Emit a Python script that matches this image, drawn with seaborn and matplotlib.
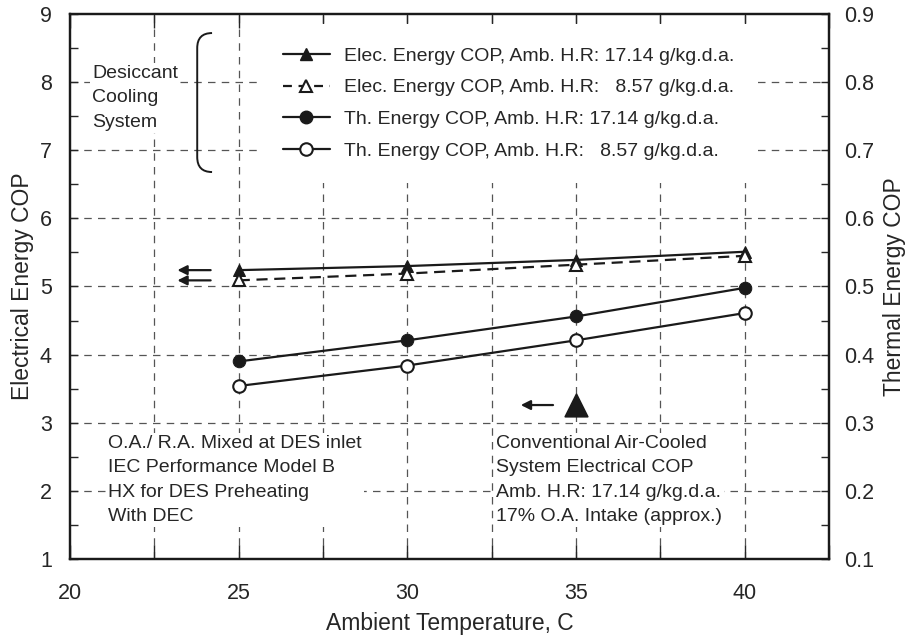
import numpy as np
import matplotlib
matplotlib.use("Agg")
import matplotlib.pyplot as plt
import seaborn as sns
from matplotlib.lines import Line2D
from matplotlib.path import Path
from matplotlib.patches import PathPatch
from matplotlib.ticker import MultipleLocator

# data
temps = [25, 30, 35, 40]
elec_cop_hi = [5.24, 5.30, 5.39, 5.51]   # Amb. H.R 17.14
elec_cop_lo = [5.09, 5.19, 5.32, 5.45]   # Amb. H.R 8.57
th_cop_hi = [0.390, 0.421, 0.456, 0.498]
th_cop_lo = [0.354, 0.384, 0.421, 0.461]
conv_temp = [35]
conv_cop = [3.26]

labels = [
    "Elec. Energy COP, Amb. H.R: 17.14 g/kg.d.a.",
    "Elec. Energy COP, Amb. H.R:   8.57 g/kg.d.a.",
    "Th. Energy COP, Amb. H.R: 17.14 g/kg.d.a.",
    "Th. Energy COP, Amb. H.R:   8.57 g/kg.d.a.",
]

sns.set_theme(style="ticks")
plt.rcParams["font.family"] = ["Liberation Sans", "DejaVu Sans"]

fig = plt.figure(figsize=(9.18, 6.41), dpi=100)
ax = fig.add_axes([0.0763, 0.1279, 0.8268, 0.8503])
ax2 = ax.twinx()

# --- series ---
sns.lineplot(x=temps, y=elec_cop_hi, ax=ax, color="k", lw=1.6, marker="^",
             markersize=9, mfc="k", mec="k", zorder=4)
sns.lineplot(x=temps, y=elec_cop_lo, ax=ax, color="k", lw=1.6, ls=(0, (5, 3)),
             marker="^", markersize=9, mfc="white", mec="k", mew=1.5, zorder=4)
sns.lineplot(x=temps, y=th_cop_hi, ax=ax2, color="k", lw=1.6, marker="o",
             markersize=9, mfc="k", mec="k", zorder=4)
sns.lineplot(x=temps, y=th_cop_lo, ax=ax2, color="k", lw=1.6, marker="o",
             markersize=9, mfc="white", mec="k", mew=1.5, zorder=4)
sns.scatterplot(x=conv_temp, y=conv_cop, ax=ax, marker="^", s=260, color="k",
                edgecolor="k", zorder=5)

# --- axes ---
ax.set_xlim(20, 42.5)
ax.set_ylim(1, 9)
ax2.set_ylim(0.1, 0.9)
ax.xaxis.set_major_locator(MultipleLocator(5))
ax.xaxis.set_minor_locator(MultipleLocator(2.5))
ax.yaxis.set_major_locator(MultipleLocator(1))
ax.yaxis.set_minor_locator(MultipleLocator(0.5))
ax2.yaxis.set_major_locator(MultipleLocator(0.1))
ax2.yaxis.set_minor_locator(MultipleLocator(0.05))

grid_kw = dict(color="#555555", lw=0.9, ls=(0, (6, 5)))
ax.grid(False)
for xv in np.arange(22.5, 42.5, 2.5):
    ax.axvline(xv, zorder=0.5, **grid_kw)
for yv in range(2, 9):
    ax.axhline(yv, zorder=0.5, **grid_kw)

ax.tick_params(axis="x", which="both", direction="in", length=10, width=1,
               top=True, labelsize=15.5, pad=17)
ax.tick_params(axis="y", which="both", direction="in", length=6, width=1,
               labelsize=15.5, pad=13)
ax2.tick_params(axis="y", which="both", direction="in", length=6, width=1,
                labelsize=15.5, pad=11)
for a in (ax, ax2):
    for s in a.spines.values():
        s.set_linewidth(1.6)
        s.set_color("k")

ax.set_xlabel("Ambient Temperature, C", fontsize=16.5, labelpad=6)
ax.set_ylabel("Electrical Energy COP", fontsize=16.5, labelpad=4)
ax2.set_ylabel("Thermal Energy COP", fontsize=16.5, labelpad=6)

# --- legend ---
handles = [
    Line2D([], [], color="k", lw=1.6, marker="^", markersize=9, mfc="k"),
    Line2D([], [], color="k", lw=1.6, ls=(0, (4, 3)), marker="^", markersize=9,
           mfc="white", mew=1.5),
    Line2D([], [], color="k", lw=1.6, marker="o", markersize=9, mfc="k"),
    Line2D([], [], color="k", lw=1.6, marker="o", markersize=9, mfc="white",
           mew=1.5),
]
leg = ax.legend(handles, labels, loc="upper left", bbox_to_anchor=(0.25, 0.982),
                fontsize=14, handlelength=2.4, handletextpad=0.75,
                labelspacing=0.72, frameon=True, facecolor="white",
                edgecolor="none", framealpha=1, borderpad=1.2, borderaxespad=0)
leg.set_zorder(3)

# --- annotations ---
box = dict(facecolor="white", edgecolor="none", pad=1.5)
ax.text(20.66, 7.77, "Desiccant\nCooling\nSystem", fontsize=14, va="center",
        linespacing=1.58, bbox=box, zorder=3)
ax.text(21.13, 2.16, "O.A./ R.A. Mixed at DES inlet\nIEC Performance Model B\n"
        "HX for DES Preheating\nWith DEC", fontsize=14, va="center",
        linespacing=1.58, bbox=box, zorder=3)
ax.text(32.63, 2.16, "Conventional Air-Cooled\nSystem Electrical COP\n"
        "Amb. H.R: 17.14 g/kg.d.a.\n17% O.A. Intake (approx.)", fontsize=14,
        va="center", linespacing=1.58, bbox=box, zorder=3)

# brace next to the desiccant label
bx0, bx1, by0, by1, ry = 23.77, 24.21, 6.68, 8.72, 0.22
brace = Path([(bx1, by1), (bx0, by1), (bx0, by1 - ry), (bx0, by0 + ry),
              (bx0, by0), (bx1, by0)],
             [Path.MOVETO, Path.CURVE3, Path.CURVE3, Path.LINETO,
              Path.CURVE3, Path.CURVE3])
ax.add_patch(PathPatch(brace, fill=False, lw=1.4, color="k", zorder=4))

# arrows pointing to the left axis
arrow_kw = dict(arrowstyle="-|>", color="k", lw=1.6, mutation_scale=14)
for yv in (elec_cop_hi[0], elec_cop_lo[0]):
    ax.annotate("", xy=(23.1, yv), xytext=(24.25, yv), arrowprops=arrow_kw)
ax.annotate("", xy=(33.28, conv_cop[0]), xytext=(34.4, conv_cop[0]),
            arrowprops=arrow_kw)

fig.savefig("out.png", dpi=100)
